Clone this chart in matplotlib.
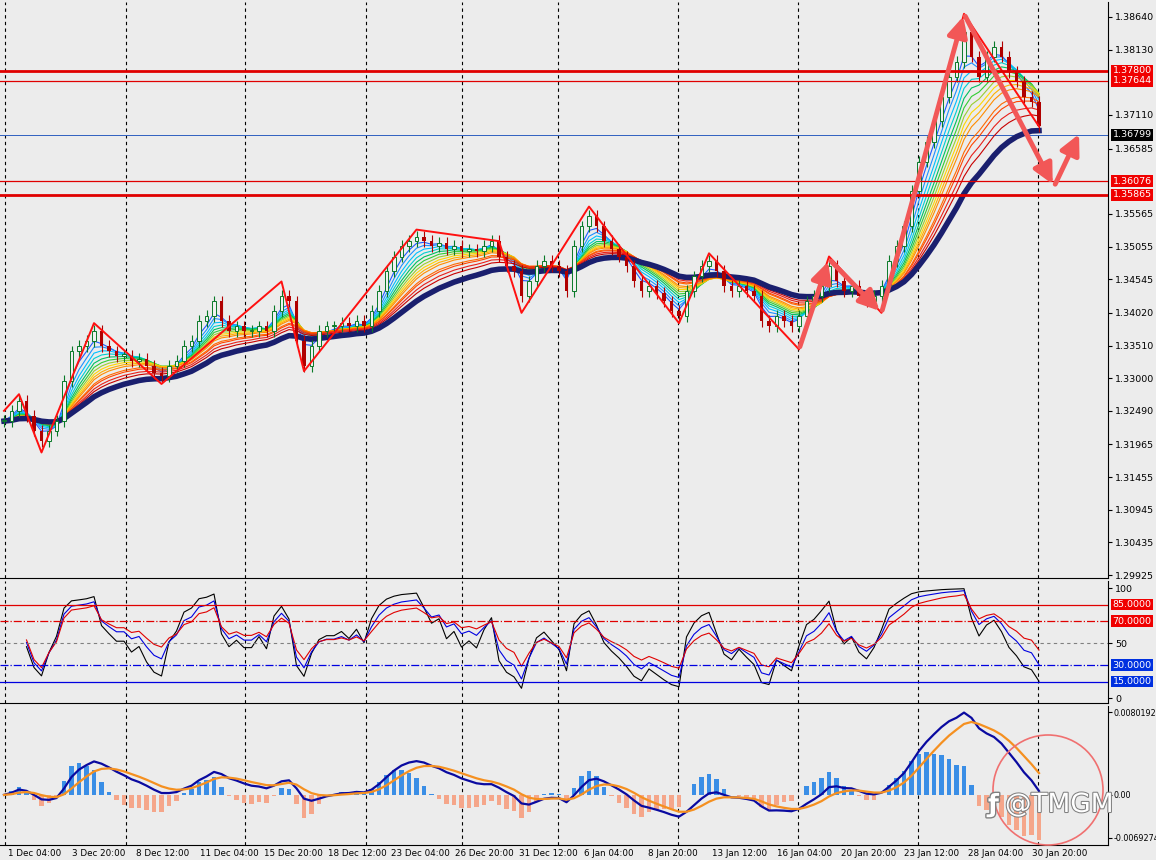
import numpy as np, pandas as pd
import matplotlib
matplotlib.use("Agg")
import matplotlib.pyplot as plt
from matplotlib.transforms import blended_transform_factory
from matplotlib.patches import Ellipse
import matplotlib.patheffects as pe

closes = [1.3233,1.3249,1.3265,1.3241,1.3218,1.3202,1.3218,1.3233,1.3296,1.3342,
          1.3350,1.3358,1.3374,1.3350,1.3342,1.3335,1.3335,1.3327,1.3330,1.3319,
          1.3308,1.3303,1.3319,1.3327,1.3350,1.3358,1.3389,1.3397,1.3420,1.3389,
          1.3374,1.3381,1.3374,1.3374,1.3381,1.3374,1.3405,1.3428,1.3420,1.3358,
          1.3319,1.3350,1.3374,1.3381,1.3381,1.3386,1.3381,1.3389,1.3381,1.3405,
          1.3436,1.3467,1.3490,1.3506,1.3514,1.3521,1.3514,1.3506,1.3511,1.3501,
          1.3506,1.3498,1.3501,1.3498,1.3506,1.3514,1.3490,1.3475,1.3467,1.3428,
          1.3451,1.3475,1.3483,1.3475,1.3467,1.3436,1.3506,1.3537,1.3553,1.3537,
          1.3514,1.3501,1.3490,1.3475,1.3451,1.3436,1.3444,1.3433,1.3420,1.3405,
          1.3397,1.3436,1.3459,1.3475,1.3483,1.3467,1.3444,1.3436,1.3444,1.3436,
          1.3428,1.3389,1.3381,1.3397,1.3389,1.3381,1.3397,1.3420,1.3428,1.3444,
          1.3475,1.3451,1.3436,1.3444,1.3428,1.3420,1.3428,1.3444,1.3483,1.3506,
          1.3537,1.3592,1.3638,1.3669,1.3701,1.3739,1.3771,1.3794,1.3841,1.3802,
          1.3771,1.3802,1.3817,1.3802,1.3778,1.3763,1.3739,1.3732,1.3693]

zz_idx = [0,2,5,12,21,37,40,55,66,69,78,90,94,106,110,117,128,138]
zz_price = [1.3249,1.3275,1.3184,1.3386,1.3291,1.3451,1.3311,1.3532,1.3514,1.3402,
            1.3568,1.3386,1.3495,1.3345,1.3490,1.3402,1.3869,1.3693]
arrow_pts = [(106,1.3345),(110,1.3486),(117,1.3402),(128,1.3869),(140,1.3599),(143.5,1.3685)]

price_ticks = [1.38640,1.38130,1.37110,1.36585,1.35565,1.35055,1.34545,1.34020,1.33510,
               1.33000,1.32490,1.31965,1.31455,1.30945,1.30435,1.29925]
levels_thick = [1.37800,1.35865]
levels_thin = [1.37644,1.36076]
current_price = 1.36799
date_labels = ["1 Dec 04:00","3 Dec 20:00","8 Dec 12:00","11 Dec 04:00","15 Dec 20:00",
               "18 Dec 12:00","23 Dec 04:00","26 Dec 20:00","31 Dec 12:00","6 Jan 04:00",
               "8 Jan 20:00","13 Jan 12:00","16 Jan 04:00","20 Jan 20:00","23 Jan 12:00",
               "28 Jan 04:00","30 Jan 20:00"]
macd_ticks = [0.0080192, 0.0, -0.0069274]

W, H = 1156, 860
BG = "#ECECEC"
FS = 6.8
fig = plt.figure(figsize=(W/100, H/100), dpi=100, facecolor=BG)

def px2x(px): return (px - 4) / 7.5
XL = (px2x(0), px2x(1108))

def mkax(top, bot):
    ax = fig.add_axes([0, 1 - bot/H, 1108/W, (bot - top)/H], facecolor=BG)
    ax.set_xlim(*XL)
    ax.yaxis.tick_right()
    for s in ["left", "top"]:
        ax.spines[s].set_visible(False)
    ax.tick_params(axis="y", labelsize=FS, length=3, pad=2)
    ax.tick_params(axis="x", length=0, labelbottom=False)
    return ax

ax1 = mkax(2, 578)
ax2 = mkax(581, 703)
ax3 = mkax(706, 845)

grid_px = [5,125.5,245,365.5,461.5,557.6,677.5,798,918,1038]
for ax in (ax1, ax2, ax3):
    for g in grid_px:
        ax.axvline(px2x(g), color="black", ls=(0,(3,3)), lw=0.8, zorder=0)

c = pd.Series(closes)
n = len(c)
x = np.arange(n)

periods = [3,4,5,6,7,8,9,10,11,12,14,15,17,19]
cols = ["#1E5BFF","#1E90FF","#00BFFF","#00CED1","#00C060","#32CD32","#9ACD32",
        "#FFD700","#FFB000","#FF8C00","#FF6A00","#FF4500","#E8201A","#C80000"]
for p, col in zip(periods, cols):
    ax1.plot(x, c.ewm(span=p, adjust=False).mean(), color=col, lw=0.8, zorder=2)
ax1.plot(x, c.ewm(span=24, adjust=False).mean(), color="#1A1F6E", lw=4, zorder=3)

opens = c.shift(1).fillna(c[0]).values
for i in range(n):
    o, cl = opens[i], closes[i]
    hi = max(o, cl) + 0.0009; lo = min(o, cl) - 0.0009
    col = "#0A7A28" if cl >= o else "#B00000"
    ax1.vlines(i, lo, hi, color=col, lw=0.8, zorder=4)
    if cl >= o:
        ax1.bar(i, max(cl-o, 0.0002), bottom=o, width=0.5, facecolor="#F0F0F0", edgecolor=col, lw=0.7, zorder=5)
    else:
        ax1.bar(i, o-cl, bottom=cl, width=0.5, color=col, zorder=5)

ax1.plot(zz_idx, zz_price, color="#FF1010", lw=1.4, zorder=6)
for (xa, ya), (xb, yb) in zip(arrow_pts[:-1], arrow_pts[1:]):
    ax1.annotate("", xy=(xb, yb), xytext=(xa, ya),
                 arrowprops=dict(arrowstyle="-|>,head_width=0.6,head_length=1.2", color="#F25757", lw=3.5), zorder=7)

for lv in levels_thick: ax1.axhline(lv, color="#E00000", lw=2, zorder=6)
for lv in levels_thin: ax1.axhline(lv, color="#E00000", lw=0.9, zorder=6)
ax1.axhline(current_price, color="#3060C0", lw=0.7, zorder=1)

ax1.set_ylim(1.2988, 1.38874)
ax1.set_yticks(price_ticks)
ax1.set_yticklabels([f"{t:.5f}" for t in price_ticks])
tr1 = blended_transform_factory(ax1.transAxes, ax1.transData)
for lv in levels_thick + levels_thin:
    ax1.text(1.004, lv, f"{lv:.5f}", transform=tr1, fontsize=FS, color="white", va="center",
             bbox=dict(boxstyle="square,pad=0.15", fc="#F00000", ec="none"), zorder=10)
ax1.text(1.004, current_price, f"{current_price:.5f}", transform=tr1, fontsize=FS, color="white",
         va="center", bbox=dict(boxstyle="square,pad=0.15", fc="black", ec="none"), zorder=10)

def rsi(s, p):
    d = s.diff().fillna(0)
    up = d.clip(lower=0).ewm(alpha=1/p, adjust=False).mean()
    dn = (-d.clip(upper=0)).ewm(alpha=1/p, adjust=False).mean()
    return 100 - 100/(1 + up/(dn + 1e-9))
r1, r2, r3 = rsi(c, 4), rsi(c, 6), rsi(c, 9)
s = slice(3, None)
ax2.plot(x[s], r1[s], color="black", lw=0.8)
ax2.plot(x[s], r2[s], color="#0000E0", lw=0.8)
ax2.plot(x[s], r3[s], color="#E00000", lw=0.8)
ax2.axhline(85, color="#E00000", lw=0.9)
ax2.axhline(70, color="#E00000", lw=0.9, ls="-.")
ax2.axhline(50, color="gray", lw=0.8, ls=(0,(3,3)))
ax2.axhline(30, color="#0000E0", lw=0.9, ls="-.")
ax2.axhline(15, color="#0000E0", lw=0.9)
ax2.set_ylim(-4.5, 106.4)
ax2.set_yticks([100, 50, 0])
tr2 = blended_transform_factory(ax2.transAxes, ax2.transData)
for lv, fc in [(85, "#F00000"), (70, "#F00000"), (30, "#0030E0"), (15, "#0030E0")]:
    ax2.text(1.004, lv, f"{lv:.4f}", transform=tr2, fontsize=FS, color="white", va="center",
             bbox=dict(boxstyle="square,pad=0.15", fc=fc, ec="none"))

macd = c.ewm(span=6, adjust=False).mean() - c.ewm(span=13, adjust=False).mean()
sig = macd.ewm(span=5, adjust=False).mean()
hist = (macd - sig) * 2.5
ax3.bar(x, hist.where(hist > 0, 0), width=0.6, color="#3A8EE6")
ax3.bar(x, hist.where(hist < 0, 0), width=0.6, color="#F5A68A")
ax3.plot(x, macd, color="#0A0AA0", lw=1.6)
ax3.plot(x, sig, color="#F59020", lw=1.6)
top = max(macd.max(), hist.max()) * 1.08
botm = min(macd.min(), hist.min()) * 1.12
ax3.set_ylim(botm, top)
ax3.set_yticks([top*0.93, 0, botm*0.86])
ax3.set_yticklabels([f"{v:.7f}" if v else "0.00" for v in macd_ticks], fontsize=5.8)
ax3.tick_params(axis="y", pad=1)

lbl_px = [8,72,136,200,264,328,391,455,519,584,648,712,777,841,904,968,1032]
for lp, t in zip(lbl_px, date_labels):
    fig.text(lp/W, 1 - 853/H, t, fontsize=6.3, va="center", ha="left")

fig.add_artist(Ellipse((1048/W, 1 - 790/H), 110/W, 110/H, transform=fig.transFigure,
                       fill=False, ec="#F07070", lw=1.2))
fig.text(988/W, 1 - 812/H, "ƒ", fontsize=18, color="white", fontweight="bold",
         path_effects=[pe.withStroke(linewidth=2, foreground="#808080")])
fig.text(1005/W, 1 - 812/H, "@TMGM", fontsize=19, color="white",
         path_effects=[pe.withStroke(linewidth=1.5, foreground="#808080")])

fig.savefig("out.png", dpi=100, facecolor=BG)
